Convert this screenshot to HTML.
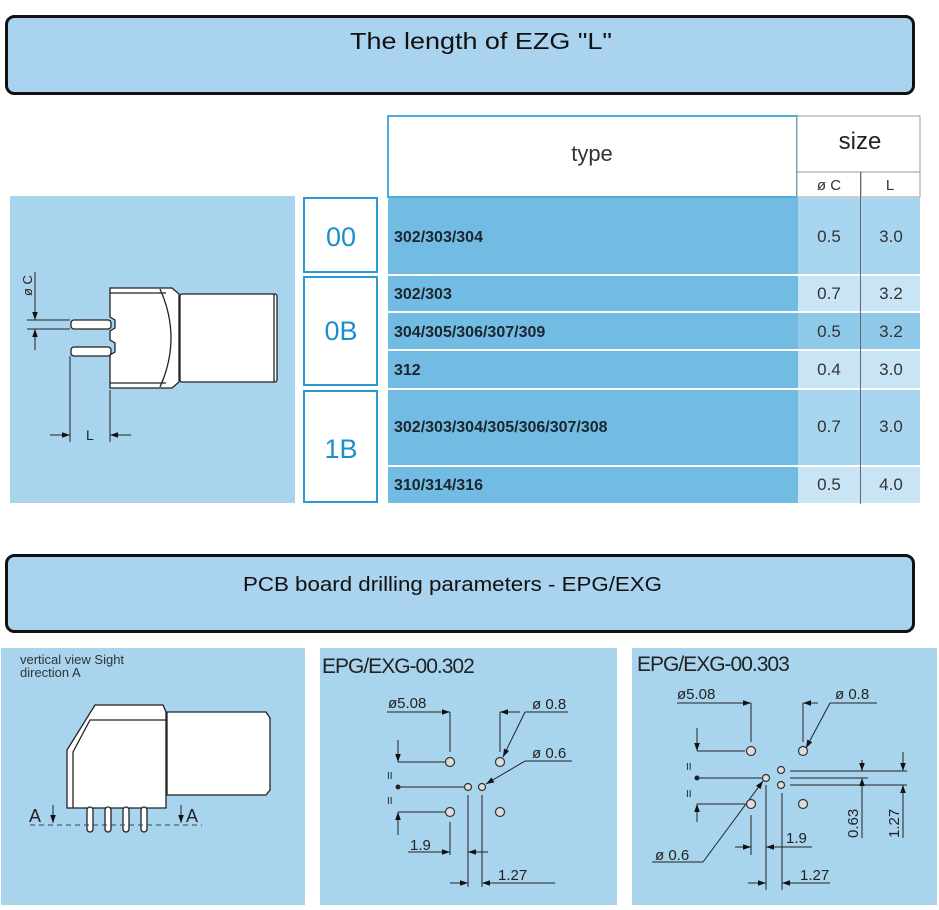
<!DOCTYPE html>
<html><head><meta charset="utf-8"><style>
html,body{margin:0;padding:0;background:#fff;width:939px;height:910px;overflow:hidden}
svg{display:block}
text{font-family:"Liberation Sans",sans-serif}
</style></head><body>
<svg width="939" height="910" viewBox="0 0 939 910" xmlns="http://www.w3.org/2000/svg">
<defs>
<marker id="ar" viewBox="0 0 10 10" refX="10" refY="5" markerWidth="12" markerHeight="8" orient="auto-start-reverse" markerUnits="userSpaceOnUse"><path d="M0,1.5 L10,5 L0,8.5 z" fill="#111"/></marker>
</defs>
<!-- Header 1 -->
<rect x="6.5" y="16.5" width="907" height="77" rx="8" fill="#a9d3ee" stroke="#111" stroke-width="3"/>
<text x="350" y="49" font-size="23" fill="#111" font-family="DejaVu Sans, sans-serif" textLength="262" lengthAdjust="spacingAndGlyphs">The length of EZG "L"</text>

<!-- Table header -->
<rect x="388" y="116" width="409" height="81" fill="#fff" stroke="#4aaed8" stroke-width="2"/>
<text x="592" y="161" font-size="22" text-anchor="middle" fill="#333" font-family="DejaVu Sans, sans-serif">type</text>
<rect x="797" y="116" width="123" height="56" fill="#fff" stroke="#999" stroke-width="1"/>
<text x="860" y="149" font-size="24" text-anchor="middle" fill="#222" font-family="DejaVu Sans, sans-serif">size</text>
<rect x="797" y="172" width="64" height="25" fill="#fff" stroke="#999" stroke-width="1"/>
<rect x="861" y="172" width="59" height="25" fill="#fff" stroke="#999" stroke-width="1"/>
<text x="829" y="190" font-size="15" text-anchor="middle" fill="#333">ø C</text>
<text x="890" y="190" font-size="15" text-anchor="middle" fill="#333">L</text>

<!-- Rows -->
<g font-size="16" fill="#1a1a1a">
<rect x="388" y="198" width="410" height="76" fill="#72bce3"/>
<rect x="798" y="198" width="64" height="76" fill="#a8d5ef"/><rect x="862" y="198" width="58" height="76" fill="#a8d5ef"/>
<rect x="388" y="276" width="410" height="35" fill="#72bce3"/>
<rect x="798" y="276" width="122" height="35" fill="#c9e5f5"/>
<rect x="388" y="313" width="410" height="36" fill="#72bce3"/>
<rect x="798" y="313" width="122" height="36" fill="#8fc9ea"/>
<rect x="388" y="351" width="410" height="37" fill="#72bce3"/>
<rect x="798" y="351" width="122" height="37" fill="#c9e5f5"/>
<rect x="388" y="390" width="410" height="75" fill="#72bce3"/>
<rect x="798" y="390" width="122" height="75" fill="#a8d5ef"/>
<rect x="388" y="467" width="410" height="36" fill="#72bce3"/>
<rect x="798" y="467" width="122" height="36" fill="#c9e5f5"/>
<line x1="860.5" y1="172" x2="860.5" y2="504" stroke="#667" stroke-width="1"/>
<g font-weight="bold" font-size="16" fill="#1a2530">
<text x="394" y="242">302/303/304</text>
<text x="394" y="299">302/303</text>
<text x="394" y="337">304/305/306/307/309</text>
<text x="394" y="375">312</text>
<text x="394" y="432">302/303/304/305/306/307/308</text>
<text x="394" y="490">310/314/316</text>
</g>
<g font-size="17" fill="#333" text-anchor="middle">
<text x="829" y="242">0.5</text><text x="891" y="242">3.0</text>
<text x="829" y="299">0.7</text><text x="891" y="299">3.2</text>
<text x="829" y="337">0.5</text><text x="891" y="337">3.2</text>
<text x="829" y="375">0.4</text><text x="891" y="375">3.0</text>
<text x="829" y="432">0.7</text><text x="891" y="432">3.0</text>
<text x="829" y="490">0.5</text><text x="891" y="490">4.0</text>
</g>
</g>

<!-- Code boxes -->
<g fill="#fff" stroke="#2a9ad0" stroke-width="2">
<rect x="304" y="198" width="73" height="74"/>
<rect x="304" y="277" width="73" height="108"/>
<rect x="304" y="391" width="73" height="111"/>
</g>
<g font-size="27" fill="#1a8fd0" text-anchor="middle">
<text x="341" y="246">00</text>
<text x="341" y="340">0B</text>
<text x="341" y="458">1B</text>
</g>

<!-- Left drawing panel -->
<rect x="10" y="196" width="285" height="307" fill="#a9d4ee"/>
<g stroke="#222" stroke-width="1.3" fill="#fff">
<rect x="180" y="294" width="97" height="88" rx="2"/>
<line x1="274" y1="294" x2="274" y2="382" fill="none"/>
<path d="M110,288 L172,288 L179,294 L179,382 L172,388 L110,388 L110,355 L115,352 L115,343 L110,340 L110,331 L115,328 L115,320 L110,317 Z"/>
<path d="M160,289 Q182,338 160,387" fill="none"/>
<line x1="110" y1="293" x2="166" y2="293"/>
<line x1="110" y1="383" x2="166" y2="383"/>
<rect x="71" y="320" width="40" height="9" rx="3"/>
<rect x="71" y="347" width="40" height="9" rx="3"/>
</g>
<g stroke="#222" stroke-width="1" fill="none">
<line x1="27" y1="320" x2="70" y2="320"/>
<line x1="27" y1="329" x2="70" y2="329"/>
<line x1="35" y1="272" x2="35" y2="320" marker-end="url(#ar)"/>
<line x1="35" y1="350" x2="35" y2="329" marker-end="url(#ar)"/>
<line x1="70" y1="356" x2="70" y2="442"/>
<line x1="110" y1="390" x2="110" y2="442"/>
<line x1="50" y1="435" x2="70" y2="435" marker-end="url(#ar)"/>
<line x1="131" y1="435" x2="110" y2="435" marker-end="url(#ar)"/>
</g>
<text x="0" y="0" font-size="13" fill="#222" transform="translate(32,296) rotate(-90)">ø C</text>
<text x="86" y="440" font-size="14" fill="#222">L</text>

<!-- Header 2 -->
<rect x="6.5" y="555.5" width="907" height="76" rx="8" fill="#a9d3ee" stroke="#111" stroke-width="3"/>
<text x="243" y="591" font-size="20" fill="#111" font-family="DejaVu Sans, sans-serif" textLength="419" lengthAdjust="spacingAndGlyphs">PCB board drilling parameters - EPG/EXG</text>

<!-- Bottom panels -->
<rect x="1" y="648" width="304" height="257" fill="#a9d4ee"/>
<rect x="320" y="648" width="297" height="257" fill="#a9d4ee"/>
<rect x="632" y="648" width="305" height="257" fill="#a9d4ee"/>

<text x="20" y="664" font-size="13" fill="#333" font-family="DejaVu Sans, sans-serif">vertical view Sight</text>
<text x="20" y="677" font-size="13" fill="#333" font-family="DejaVu Sans, sans-serif">direction A</text>
<g stroke="#222" stroke-width="1.3" fill="#fff">
<path d="M167,712 L266,712 L270,718 L270,790 L266,795 L167,795 Z"/>
<path d="M67,808 L67,750 L95,705 L163,705 L166,712 L166,808 Z"/>
<path d="M73,808 L73,752 L90,720 L166,720" fill="none"/>
<rect x="87" y="807" width="6" height="25" rx="3"/>
<rect x="105" y="807" width="6" height="25" rx="3"/>
<rect x="123" y="807" width="6" height="25" rx="3"/>
<rect x="141" y="807" width="6" height="25" rx="3"/>
</g>
<line x1="30" y1="825" x2="202" y2="825" stroke="#444" stroke-width="1" stroke-dasharray="5,4"/>
<line x1="53" y1="805" x2="53" y2="823" stroke="#222" marker-end="url(#ar)"/>
<line x1="181" y1="805" x2="181" y2="823" stroke="#222" marker-end="url(#ar)"/>
<text x="29" y="822" font-size="18" fill="#222">A</text>
<text x="186" y="822" font-size="18" fill="#222">A</text>

<!-- Middle drawing -->
<text x="322" y="673" font-size="21" fill="#222" letter-spacing="-1">EPG/EXG-00.302</text>
<g stroke="#222" stroke-width="1" fill="none">
<line x1="398" y1="762" x2="445" y2="762"/>
<line x1="398" y1="787" x2="465" y2="787"/>
<line x1="398" y1="812" x2="445" y2="812"/>
<line x1="398" y1="740" x2="398" y2="762" marker-end="url(#ar)"/>
<line x1="398" y1="835" x2="398" y2="812" marker-end="url(#ar)"/>
<line x1="387" y1="712" x2="440" y2="712"/>
<line x1="437" y1="712" x2="450" y2="712" marker-end="url(#ar)"/>
<line x1="520" y1="712" x2="500" y2="712" marker-end="url(#ar)"/>
<line x1="450" y1="712" x2="450" y2="752"/>
<line x1="500" y1="712" x2="500" y2="752"/>
<line x1="568" y1="712" x2="525" y2="712"/>
<line x1="525" y1="712" x2="503" y2="757" marker-end="url(#ar)"/>
<line x1="572" y1="761" x2="525" y2="761"/>
<line x1="525" y1="761" x2="486" y2="784" marker-end="url(#ar)"/>
<line x1="450" y1="822" x2="450" y2="855"/>
<line x1="468" y1="795" x2="468" y2="887"/>
<line x1="482" y1="795" x2="482" y2="887"/>
<line x1="408" y1="852" x2="450" y2="852" marker-end="url(#ar)"/>
<line x1="488" y1="852" x2="468" y2="852" marker-end="url(#ar)"/>
<line x1="450" y1="883" x2="468" y2="883" marker-end="url(#ar)"/>
<line x1="555" y1="883" x2="482" y2="883" marker-end="url(#ar)"/>
</g>
<circle cx="398" cy="787" r="2.5" fill="#222"/>
<g stroke="#333" stroke-width="1.2" fill="#ddd">
<circle cx="450" cy="762" r="4.5"/><circle cx="500" cy="762" r="4.5"/>
<circle cx="450" cy="812" r="4.5"/><circle cx="500" cy="812" r="4.5"/>
<circle cx="468" cy="787" r="3.5"/><circle cx="482" cy="787" r="3.5"/>
</g>
<g font-size="15" fill="#222">
<text x="388" y="708">ø5.08</text>
<text x="532" y="709">ø 0.8</text>
<text x="532" y="758">ø 0.6</text>
<text x="410" y="850">1.9</text>
<text x="498" y="880">1.27</text>
<text x="387" y="779" font-size="10">II</text>
<text x="387" y="804" font-size="10">II</text>
</g>

<!-- Right drawing -->
<text x="637" y="671" font-size="21" fill="#222" letter-spacing="-1">EPG/EXG-00.303</text>
<g stroke="#222" stroke-width="1" fill="none">
<line x1="697" y1="751" x2="745" y2="751"/>
<line x1="697" y1="778" x2="762" y2="778"/>
<line x1="697" y1="804" x2="745" y2="804"/>
<line x1="697" y1="728" x2="697" y2="751" marker-end="url(#ar)"/>
<line x1="697" y1="822" x2="697" y2="804" marker-end="url(#ar)"/>
<line x1="677" y1="703" x2="740" y2="703"/>
<line x1="737" y1="703" x2="751" y2="703" marker-end="url(#ar)"/>
<line x1="818" y1="703" x2="803" y2="703" marker-end="url(#ar)"/>
<line x1="751" y1="703" x2="751" y2="742"/>
<line x1="803" y1="703" x2="803" y2="742"/>
<line x1="877" y1="703" x2="830" y2="703"/>
<line x1="830" y1="703" x2="806" y2="748" marker-end="url(#ar)"/>
<line x1="790" y1="771" x2="907" y2="771"/>
<line x1="790" y1="778" x2="868" y2="778"/>
<line x1="790" y1="785" x2="907" y2="785"/>
<line x1="862" y1="760" x2="862" y2="771" marker-end="url(#ar)"/>
<line x1="862" y1="838" x2="862" y2="778" marker-end="url(#ar)"/>
<line x1="903" y1="752" x2="903" y2="771" marker-end="url(#ar)"/>
<line x1="903" y1="838" x2="903" y2="785" marker-end="url(#ar)"/>
<line x1="652" y1="862" x2="703" y2="862"/>
<line x1="703" y1="862" x2="763" y2="781" marker-end="url(#ar)"/>
<line x1="751" y1="815" x2="751" y2="855"/>
<line x1="766" y1="785" x2="766" y2="890"/>
<line x1="782" y1="793" x2="782" y2="890"/>
<line x1="735" y1="847" x2="751" y2="847" marker-end="url(#ar)"/>
<line x1="812" y1="847" x2="766" y2="847" marker-end="url(#ar)"/>
<line x1="748" y1="883" x2="766" y2="883" marker-end="url(#ar)"/>
<line x1="830" y1="883" x2="782" y2="883" marker-end="url(#ar)"/>
</g>
<circle cx="697" cy="778" r="2.5" fill="#222"/>
<g stroke="#333" stroke-width="1.2" fill="#ddd">
<circle cx="751" cy="751" r="4.5"/><circle cx="803" cy="751" r="4.5"/>
<circle cx="751" cy="804" r="4.5"/><circle cx="803" cy="804" r="4.5"/>
<circle cx="766" cy="778" r="3.5"/><circle cx="781" cy="770" r="3.5"/><circle cx="781" cy="785" r="3.5"/>
</g>
<g font-size="15" fill="#222">
<text x="677" y="699">ø5.08</text>
<text x="835" y="699">ø 0.8</text>
<text x="655" y="860">ø 0.6</text>
<text x="786" y="843">1.9</text>
<text x="800" y="880">1.27</text>
<text x="686" y="770" font-size="10">II</text>
<text x="686" y="797" font-size="10">II</text>
<text transform="translate(858,838) rotate(-90)">0.63</text>
<text transform="translate(899,838) rotate(-90)">1.27</text>
</g>
</svg>
</body></html>
